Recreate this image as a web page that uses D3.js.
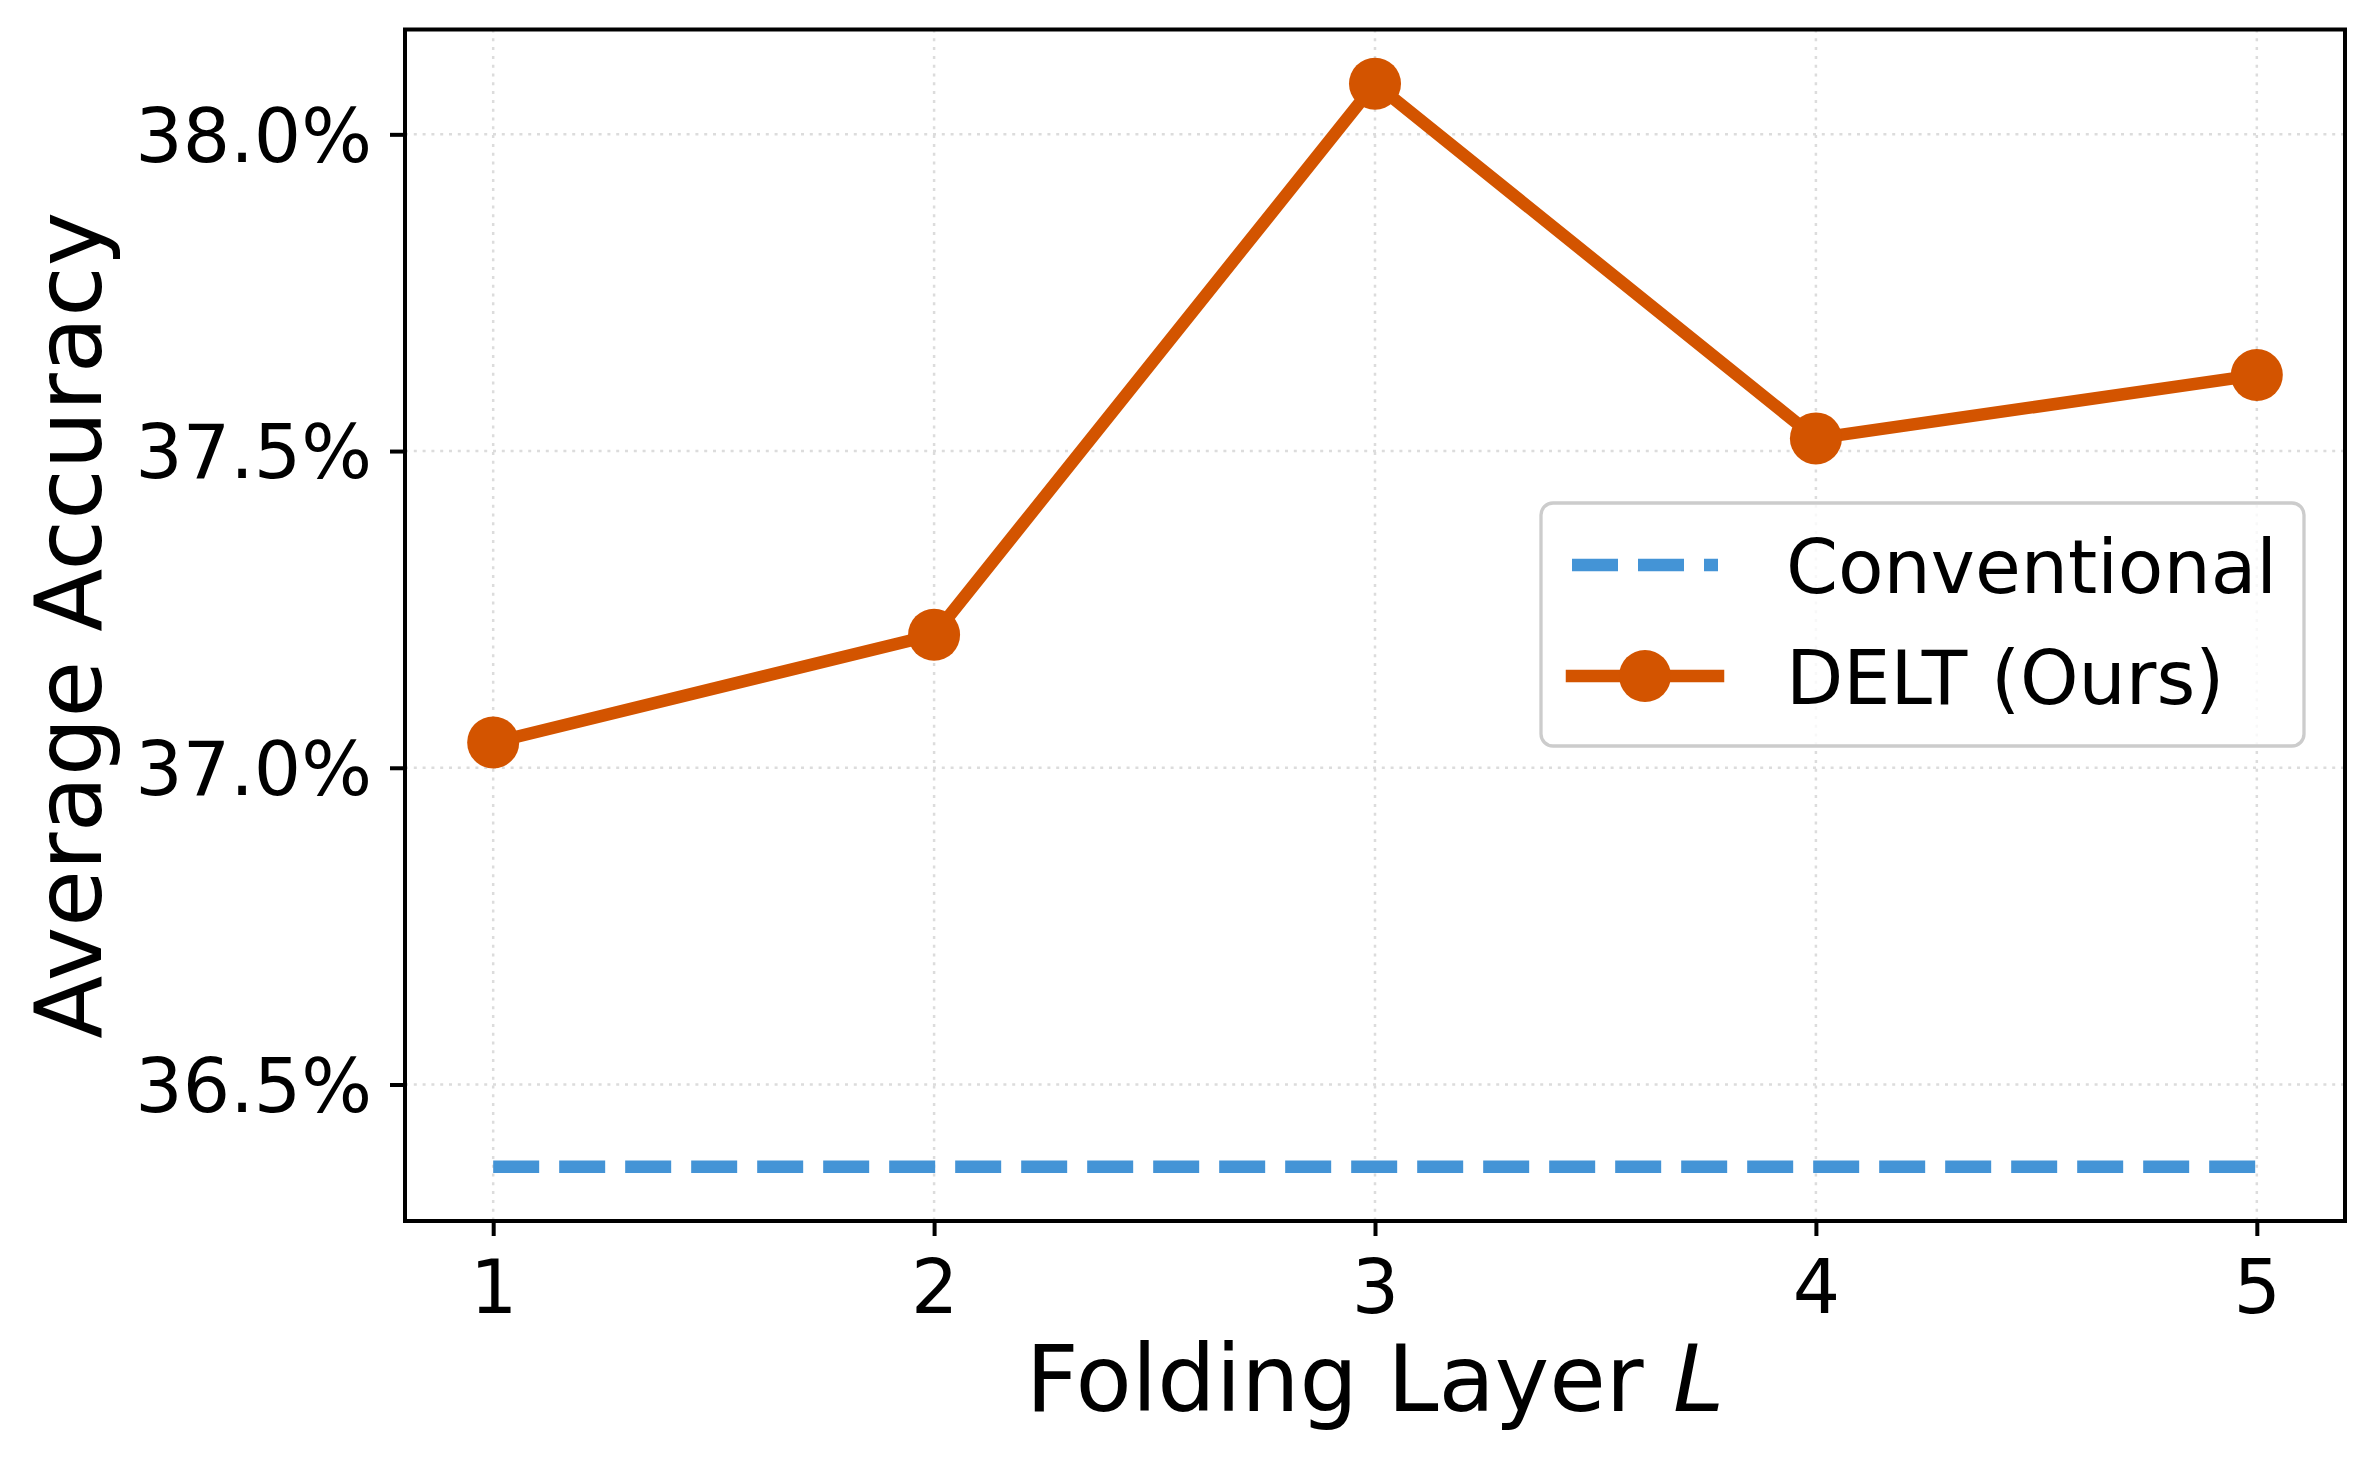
<!DOCTYPE html>
<html>
<head>
<meta charset="utf-8">
<script src="https://d3js.org/d3.v7.min.js"></script>
<style>
  body { margin: 0; background: #ffffff; }
  svg { display: block; font-family: "DejaVu Sans", sans-serif; }
</style>
</head>
<body>
<div id="chart"></div>
<script>
// values
const layers = [1, 2, 3, 4, 5];
const deltAcc = [37.04, 37.21, 38.08, 37.52, 37.62];
const conventionalAcc = [36.37, 36.37, 36.37, 36.37, 36.37];
const yTicks = [36.5, 37.0, 37.5, 38.0];
const seriesNames = ["Conventional", "DELT (Ours)"];
const seriesColors = ["#4494d6", "#d35400"];

(function() {
  const W = 2372, H = 1465;
  const margin = { top: 29.5, right: 27, bottom: 244, left: 405 };
  const width = W - margin.left - margin.right;
  const height = H - margin.top - margin.bottom;

  const svg = d3.select("#chart")
    .append("svg")
      .attr("width", W)
      .attr("height", H);

  const g = svg.append("g")
    .attr("transform", `translate(${margin.left}, ${margin.top})`);

  // matplotlib style 5% margins
  const xPad = (d3.max(layers) - d3.min(layers)) * 0.05;
  const allY = deltAcc.concat(conventionalAcc);
  const yPad = (d3.max(allY) - d3.min(allY)) * 0.05;

  const x = d3.scaleLinear()
    .domain([d3.min(layers) - xPad, d3.max(layers) + xPad])
    .range([0, width]);

  const y = d3.scaleLinear()
    .domain([d3.min(allY) - yPad, d3.max(allY) + yPad])
    .range([height, 0]);

  // grid
  const grid = g.append("g").attr("class", "grid");
  grid.selectAll("line.v")
    .data(layers)
    .enter().append("line")
      .attr("x1", d => x(d)).attr("x2", d => x(d))
      .attr("y1", 0).attr("y2", height)
      .attr("stroke", "#dcdcdc")
      .attr("stroke-width", 2.5)
      .attr("stroke-dasharray", "3,5.8");
  grid.selectAll("line.h")
    .data(yTicks)
    .enter().append("line")
      .attr("x1", 0).attr("x2", width)
      .attr("y1", d => y(d)).attr("y2", d => y(d))
      .attr("stroke", "#dcdcdc")
      .attr("stroke-width", 2.5)
      .attr("stroke-dasharray", "3,5.8");

  const line = d3.line()
    .x(d => x(d[0]))
    .y(d => y(d[1]));

  // conventional baseline
  g.append("path")
    .datum(layers.map((l, i) => [l, conventionalAcc[i]]))
    .attr("fill", "none")
    .attr("stroke", seriesColors[0])
    .attr("stroke-width", 12.5)
    .attr("stroke-dasharray", "46,20")
    .attr("d", line);

  // DELT
  const deltData = layers.map((l, i) => [l, deltAcc[i]]);
  g.append("path")
    .datum(deltData)
    .attr("fill", "none")
    .attr("stroke", seriesColors[1])
    .attr("stroke-width", 12.5)
    .attr("stroke-linecap", "square")
    .attr("stroke-linejoin", "round")
    .attr("d", line);

  g.selectAll("circle.pt")
    .data(deltData)
    .enter().append("circle")
      .attr("class", "pt")
      .attr("cx", d => x(d[0]))
      .attr("cy", d => y(d[1]))
      .attr("r", 26)
      .attr("fill", seriesColors[1]);

  // axes
  const yAxis = g.append("g")
    .call(d3.axisLeft(y)
      .tickValues(yTicks)
      .tickSize(15)
      .tickPadding(18)
      .tickFormat(d => d.toFixed(1) + "%"));

  const xAxis = g.append("g")
    .attr("transform", `translate(0, ${height})`)
    .call(d3.axisBottom(x)
      .tickValues(layers)
      .tickSize(15)
      .tickPadding(24)
      .tickFormat(d3.format("d")));

  [xAxis, yAxis].forEach(a => {
    a.select(".domain").remove();
    a.selectAll(".tick line").attr("stroke", "#000").attr("stroke-width", 4);
    a.selectAll(".tick text")
      .attr("fill", "#000")
      .style("font-family", "'DejaVu Sans', sans-serif")
      .style("font-size", "74.5px");
  });
  yAxis.selectAll(".tick text").attr("dy", "0.36em");

  // frame
  g.append("rect")
    .attr("x", 0).attr("y", 0)
    .attr("width", width).attr("height", height)
    .attr("fill", "none")
    .attr("stroke", "#000")
    .attr("stroke-width", 4);

  // axis titles
  g.append("text")
    .attr("x", width / 2)
    .attr("y", 1411 - margin.top)
    .attr("text-anchor", "middle")
    .style("font-size", "92px")
    .attr("fill", "#000")
    .text("Folding Layer ")
    .append("tspan")
      .style("font-style", "italic")
      .text("L");

  svg.append("text")
    .attr("transform", `translate(101, ${margin.top + height / 2}) rotate(-90)`)
    .attr("text-anchor", "middle")
    .style("font-size", "92px")
    .attr("fill", "#000")
    .text("Average Accuracy");

  // legend
  const legend = svg.append("g")
    .attr("transform", "translate(1541, 503)");

  legend.append("rect")
    .attr("width", 763)
    .attr("height", 243)
    .attr("rx", 12)
    .attr("fill", "#ffffff")
    .attr("fill-opacity", 0.8)
    .attr("stroke", "#cccccc")
    .attr("stroke-width", 3.3);

  const rows = legend.selectAll("g.row")
    .data(seriesNames)
    .enter().append("g")
      .attr("class", "row")
      .attr("transform", (d, i) => `translate(0, ${i === 0 ? 62 : 173})`);

  rows.append("line")
    .attr("x1", 31).attr("x2", 177)
    .attr("y1", 0).attr("y2", 0)
    .attr("stroke", (d, i) => seriesColors[i])
    .attr("stroke-width", 12.5)
    .attr("stroke-linecap", (d, i) => i === 0 ? "butt" : "square")
    .attr("stroke-dasharray", (d, i) => i === 0 ? "46,20" : null);

  rows.filter((d, i) => i === 1)
    .append("circle")
      .attr("cx", 104)
      .attr("cy", 0)
      .attr("r", 26)
      .attr("fill", seriesColors[1]);

  rows.append("text")
    .attr("x", 245)
    .attr("y", 28)
    .style("font-size", "74.5px")
    .attr("fill", "#000")
    .text(d => d);
})();
</script>
</body>
</html>
